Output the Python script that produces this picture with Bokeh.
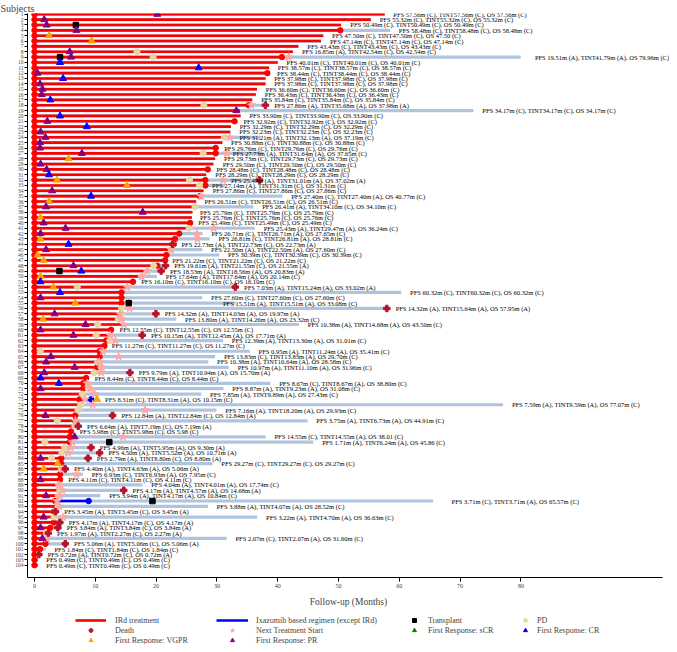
from bokeh.plotting import figure
from bokeh.layouts import column
from bokeh.models import (Range1d, FixedTicker, ColumnDataSource, LabelSet,
                          Legend, LegendItem)
from bokeh.core.properties import value
from bokeh.embed import file_html
from bokeh.resources import INLINE

FONT = "Liberation Serif"

subjects = list(range(1, 105))

# values printed in each row's annotation: PFS, TINT, OS (months) and event flags (A/C)
pfs = [57.56, 55.32, 50.49, 58.48, 47.50, 47.14, 43.43, 16.85, 19.51, 40.01,
       38.57, 38.44, 37.98, 37.98, 36.60, 36.43, 35.84, 27.86, 34.17, 33.90,
       32.92, 32.29, 32.23, 31.21, 30.88, 29.76, 27.73, 29.73, 29.50, 28.48,
       28.29, 25.49, 27.14, 27.86, 27.40, 26.51, 26.41, 25.79, 25.76, 25.49,
       25.43, 26.71, 26.81, 22.73, 22.50, 30.39, 21.22, 19.61, 18.53, 17.64,
       16.10, 7.03, 60.32, 27.60, 15.51, 14.32, 14.32, 13.80, 10.38, 12.55,
       10.15, 12.39, 11.27, 0.95, 13.83, 10.38, 10.97, 9.79, 8.44, 8.67,
       8.87, 7.85, 8.31, 7.59, 7.16, 12.84, 3.75, 6.64, 5.98, 14.55,
       1.71, 4.96, 4.50, 2.79, 29.27, 4.40, 6.93, 4.11, 4.04, 4.17,
       3.94, 3.71, 3.88, 3.45, 3.22, 4.17, 3.84, 1.97, 2.07, 5.06,
       1.84, 0.72, 0.49, 0.49]
tint = [57.56, 55.32, 50.49, 58.48, 47.50, 47.14, 43.43, 42.54, 41.79, 40.01,
        38.57, 38.44, 37.98, 37.98, 36.60, 36.43, 35.84, 35.68, 34.17, 33.90,
        32.92, 32.29, 32.23, 32.13, 30.88, 29.76, 31.64, 29.73, 29.50, 28.48,
        28.29, 31.01, 31.31, 27.86, 27.40, 26.51, 34.10, 25.79, 25.76, 25.49,
        29.47, 26.71, 26.81, 22.73, 22.50, 30.39, 21.22, 21.55, 18.56, 17.64,
        16.10, 15.24, 60.32, 27.60, 15.51, 15.64, 14.03, 14.26, 14.68, 12.55,
        12.45, 13.30, 11.27, 11.24, 13.83, 10.64, 11.10, 10.94, 8.44, 8.67,
        9.23, 9.89, 8.31, 9.59, 18.20, 12.84, 6.73, 7.19, 5.98, 14.55,
        6.24, 5.95, 5.52, 8.80, 29.27, 4.63, 6.93, 4.11, 4.01, 4.57,
        4.17, 3.71, 4.07, 3.45, 4.70, 4.17, 3.84, 2.27, 2.07, 5.06,
        1.84, 0.72, 0.49, 0.49]
os_m = [57.56, 55.32, 50.49, 58.48, 47.50, 47.14, 43.43, 42.54, 79.96, 40.01,
        38.57, 38.44, 37.98, 37.98, 36.60, 36.43, 35.84, 37.98, 34.17, 33.90,
        32.92, 32.29, 32.23, 37.19, 30.88, 29.76, 37.65, 29.73, 29.50, 28.48,
        28.29, 37.02, 31.31, 27.86, 40.77, 26.51, 34.10, 25.79, 25.76, 25.49,
        36.24, 27.65, 28.81, 22.73, 27.60, 30.39, 21.22, 21.55, 20.83, 20.14,
        16.10, 33.02, 60.32, 27.60, 33.08, 57.95, 19.97, 23.32, 43.50, 12.55,
        17.71, 31.01, 11.27, 35.41, 29.70, 28.58, 31.96, 15.70, 8.44, 38.80,
        31.08, 27.43, 10.15, 77.07, 29.93, 12.84, 44.91, 7.19, 5.98, 38.01,
        45.86, 9.30, 10.71, 8.80, 29.27, 5.06, 7.95, 4.11, 17.74, 14.68,
        10.84, 65.57, 28.52, 3.45, 36.63, 4.17, 3.84, 2.27, 31.60, 5.06,
        1.84, 0.72, 0.49, 0.49]
events = ["CCC", "CCC", "CCC", "CCC", "CCC", "CCC", "CCC", "ACC", "AAC", "CCC",
          "CCC", "CCC", "CCC", "CCC", "CCC", "CCC", "CCC", "AAA", "CCC", "CCC",
          "CCC", "CCC", "CCC", "AAC", "CCC", "CCC", "AAC", "CCC", "CCC", "CCC",
          "CCC", "AAA", "ACC", "CCC", "CAC", "CCC", "ACC", "CCC", "CCC", "CCC",
          "AAC", "CAC", "CAC", "ACA", "AAC", "CCC", "CCC", "ACA", "AAA", "AAC",
          "CCC", "AAA", "CCC", "CCC", "AAC", "AAA", "AAA", "AAC", "AAC", "CCC",
          "AAA", "AAC", "CCC", "AAC", "CAC", "AAC", "AAC", "AAA", "CCC", "CAC",
          "AAC", "AAC", "CAC", "AAC", "AAC", "ACA", "AAC", "ACA", "CCC", "CAC",
          "AAC", "AAA", "AAA", "ACA", "CCC", "AAA", "CAC", "CCC", "AAC", "AAA",
          "AAC", "CAC", "AAC", "ACA", "AAC", "ACA", "ACA", "ACA", "CAC", "ACA",
          "CCC", "ACA", "CCC", "CCC"]
os_without_unit = [5, 79, 80, 81]

# IRd treatment duration (months)
ird_end = [57.6, 55.3, 50.4, 50.3, 47.5, 47.1, 43.4, 42.5, 40.7, 40.0,
           38.6, 38.3, 38.0, 38.0, 36.6, 36.4, 35.8, 35.2, 33.8, 33.9,
           32.9, 32.3, 32.2, 31.2, 30.9, 29.8, 29.8, 29.7, 29.4, 28.5,
           28.2, 28.1, 28.1, 27.8, 27.2, 26.6, 26.4, 26.0, 25.9, 25.6,
           25.5, 23.8, 23.1, 22.9, 22.5, 21.7, 21.5, 20.2, 18.5, 17.6,
           16.2, 15.2, 14.3, 14.3, 14.3, 14.4, 14.1, 13.8, 14.4, 12.6,
           12.4, 11.8, 11.5, 10.7, 10.7, 10.4, 10.3, 9.8, 8.5, 8.0,
           8.0, 7.8, 7.4, 7.5, 7.1, 6.7, 6.7, 6.4, 6.0, 5.8,
           5.8, 4.9, 4.5, 4.4, 4.4, 4.2, 4.2, 4.2, 3.9, 4.2,
           3.6, 3.4, 4.1, 3.2, 3.2, 3.2, 2.6, 1.8, 1.8, 1.8,
           0.9, 0.5, 0.49, 0.49]
ird_stopped = [4, 9, 12, 18, 21, 26, 27, 30, 32, 33, 35, 40, 42, 43, 44, 46, 47, 48,
               51, 53, 54, 55, 60, 62, 63, 64, 65, 67, 69, 70, 71, 73, 76, 77, 79,
               80, 81, 84, 85, 87, 88, 92, 94, 96, 97, 100, 101]

# follow-up bar where it differs from OS
follow_diff = {19: 72.2, 37: 36.0}
# annotation start where it is not just after the follow-up bar
label_at_diff = {9: 82.3, 92: 68.6, 24: 33.7, 27: 32.6, 32: 32.3, 33: 29.2, 55: 31.0}

# ixazomib based regimens (except IRd)
ixa_subj = [73, 92]
ixa_start = [7.4, 3.4]
ixa_end = [9.3, 8.9]

transplant_subj = [3, 9, 49, 55, 81, 92]
transplant_x = [6.8, 4.2, 4.1, 15.5, 12.3, 19.4]

pr_subj = [1, 2, 3, 4, 8, 9, 12, 14, 15, 16, 19, 21, 23, 24, 25, 26, 27, 29, 30, 34,
           37, 38, 40, 41, 42, 45, 48, 54, 57, 59, 60, 61, 65, 66, 67, 68, 71, 76,
           80, 84, 88, 91, 95, 97, 99]
pr_x = [20.2, 1.6, 2.0, 6.9, 5.8, 6.0, 0.5, 0.9, 1.3, 1.2, 33.2, 2.1, 1.0, 1.8, 0.9,
        0.9, 7.8, 1.0, 2.0, 2.9, 1.9, 17.8, 1.5, 5.1, 1.0, 1.9, 6.4, 1.0, 3.3, 8.4,
        1.0, 6.4, 2.7, 1.9, 6.6, 1.6, 1.0, 1.8, 6.6, 1.0, 1.0, 1.9, 1.5, 1.0, 1.3]
vgpr_subj = [5, 6, 28, 32, 33, 36, 39, 43, 46, 47, 50, 52, 55, 58, 73, 85, 86]
vgpr_x = [2.4, 9.4, 5.6, 3.7, 15.2, 2.4, 1.0, 1.0, 0.5, 1.5, 1.0, 3.1, 6.7, 1.4,
          10.3, 3.8, 1.5]
cr_subj = [10, 11, 13, 17, 20, 22, 31, 35, 44, 49, 51, 53, 69, 70]
cr_x = [4.2, 27.0, 4.7, 2.6, 4.2, 8.6, 2.4, 9.3, 5.6, 7.7, 1.0, 4.2, 1.0, 4.0]
scr_subj = []
scr_x = []

x_ticks = [0, 10, 20, 30, 40, 50, 60, 70, 80]

# ---------------------------------------------------------------- derived
n = len(subjects)
follow = [follow_diff.get(s, o) for s, o in zip(subjects, os_m)]
start = [0.0] * n


def fmt(i):
    s = subjects[i]
    e = events[i]
    os_txt = f"OS {os_m[i]:.2f}" + ("" if s in os_without_unit else "m")
    return (f"PFS {pfs[i]:.2f}m ({e[0]}), TINT{tint[i]:.2f}m ({e[1]}), "
            f"{os_txt} ({e[2]})")


labels = [fmt(i) for i in range(n)]
label_x = [label_at_diff.get(s, f + 1.45) for s, f in zip(subjects, follow)]

pd_s = [s for s, e in zip(subjects, events) if e[0] == "A"]
pd_x = [v for v, e in zip(pfs, events) if e[0] == "A"]
nt_s = [s for s, e in zip(subjects, events) if e[1] == "A"]
nt_x = [v for v, e in zip(tint, events) if e[1] == "A"]
de_s = [s for s, e in zip(subjects, events) if e[2] == "A"]
de_x = [v for v, e in zip(os_m, events) if e[2] == "A"]
stop_x = [ird_end[s - 1] for s in ird_stopped]

# ---------------------------------------------------------------- styles
RED = "#ff0000"
LBLUE = "#b0c4de"
IXA = "#0000ff"
PDC = "#e8d7a2"
STAR = "#ffa8a8"
DEATH = "#b5152b"
VGPR = "#ffa500"
PR = "#800080"
CR = "#0000ff"
SCR = "#008000"

# ---------------------------------------------------------------- main figure
W = 669
MAIN_H = 615
LEG_H = 29
LEFT = 27
PX_PER_MONTH = 6.08
x0 = -7 / PX_PER_MONTH
x1 = x0 + (W - LEFT) / PX_PER_MONTH

p = figure(width=W, height=MAIN_H, output_backend="svg", toolbar_location=None,
           x_range=Range1d(x0, x1), y_range=Range1d(106.3, 0.85),
           min_border_left=LEFT, min_border_right=0,
           min_border_top=12, min_border_bottom=38)
p.outline_line_color = None
p.grid.visible = False

p.title.text = "Subjects"
p.title.align = "left"
p.title.offset = -LEFT
p.title.standoff = 0
p.title.text_font = FONT
p.title.text_font_size = "10px"
p.title.text_font_style = "normal"

src = ColumnDataSource(dict(s=subjects, x0=start, red=ird_end, fol=follow,
                            lx=label_x, lab=labels))

p.segment(x0="x0", y0="s", x1="fol", y1="s", source=src, line_color=LBLUE,
          line_width=3.2)
p.segment(x0="x0", y0="s", x1="red", y1="s", source=src, line_color=RED,
          line_width=2.6)
p.segment(x0=ixa_start, y0=ixa_subj, x1=ixa_end, y1=ixa_subj, line_color=IXA,
          line_width=2.4)
p.scatter(x="x0", y="s", source=src, size=5.5, color=RED)
p.scatter(x=stop_x, y=ird_stopped, size=5.5, color=RED)
p.scatter(x=ixa_end, y=ixa_subj, size=5.5, color=IXA)

p.scatter(x=pd_x, y=pd_s, marker="hex", size=6.5, color=PDC)
p.scatter(x=nt_x, y=nt_s, marker="star", size=8.5, color=STAR)
p.scatter(x=de_x, y=de_s, marker="plus", size=6.5, color=DEATH)
p.scatter(x=transplant_x, y=transplant_subj, marker="square", size=5.5, color="black")
p.scatter(x=vgpr_x, y=vgpr_subj, marker="triangle", size=7, color=VGPR)
p.scatter(x=pr_x, y=pr_subj, marker="triangle", size=7, color=PR)
p.scatter(x=cr_x, y=cr_subj, marker="triangle", size=7, color=CR)
p.scatter(x=scr_x, y=scr_subj, marker="triangle", size=7, color=SCR)

p.add_layout(LabelSet(x="lx", y="s", text="lab", source=src,
                      text_font=value(FONT), text_font_size="6.5px",
                      text_baseline="middle", text_align="left",
                      text_color="black"))

xa = p.xaxis[0]
xa.ticker = FixedTicker(ticks=x_ticks)
xa.bounds = (x0, x1 - 7 / PX_PER_MONTH)
xa.axis_label = "Follow-up (Months)"
xa.axis_label_text_font = FONT
xa.axis_label_text_font_size = "9.5px"
xa.axis_label_text_font_style = "normal"
xa.axis_label_standoff = 6
xa.major_label_text_font = FONT
xa.major_label_text_font_size = "6px"
xa.major_label_standoff = 2
xa.major_tick_in = 0
xa.major_tick_out = 4
xa.minor_tick_out = 0
xa.minor_tick_in = 0

ya = p.yaxis[0]
ya.ticker = FixedTicker(ticks=subjects)
ya.major_label_text_font = FONT
ya.major_label_text_font_size = "5.5px"
ya.major_label_standoff = 1
ya.major_tick_in = 0
ya.major_tick_out = 3
ya.minor_tick_out = 0
ya.minor_tick_in = 0

# ---------------------------------------------------------------- legend figure
# (its frame is aligned with the main frame by the column layout)
q = figure(width=W, height=LEG_H, output_backend="svg", toolbar_location=None,
           x_range=Range1d(0, W - LEFT), y_range=Range1d(0, LEG_H),
           min_border=0, x_axis_type=None, y_axis_type=None)
q.outline_line_color = None
q.grid.visible = False

nan = float("nan")
proxy = dict(x0=[nan], y0=[nan], x1=[nan], y1=[nan])
l_ird = q.segment(source=ColumnDataSource(dict(proxy)), x0="x0", y0="y0", x1="x1",
                  y1="y1", line_color=RED, line_width=2.6)
l_ixa = q.segment(source=ColumnDataSource(dict(proxy)), x0="x0", y0="y0", x1="x1",
                  y1="y1", line_color=IXA, line_width=2.4)


def mk(marker, color):
    return q.scatter(x=[nan], y=[nan], marker=marker, color=color)


l_de = mk("plus", DEATH)
l_vg = mk("triangle", VGPR)
l_nt = mk("star", STAR)
l_pr = mk("triangle", PR)
l_tx = mk("square", "black")
l_sc = mk("triangle", SCR)
l_pd = mk("hex", PDC)
l_cr = mk("triangle", CR)

common = dict(orientation="vertical", glyph_height=10, label_height=10, spacing=0,
              padding=0, margin=0, border_line_alpha=0, background_fill_alpha=0,
              label_text_font=FONT, label_text_font_size="8px")
cols = [
    ([("IRd treatment", l_ird), ("Death", l_de), ("First Response: VGPR", l_vg)],
     (48, LEG_H - 30), 31, 9),
    ([("Ixazomib based regimen (except IRd)", l_ixa), ("Next Treatment Start", l_nt),
      ("First Response: PR", l_pr)], (189, LEG_H - 30), 32, 8),
    ([("Transplant", l_tx), ("First Response: sCR", l_sc)], (379, LEG_H - 20), 16, 6),
    ([("PD", l_pd), ("First Response: CR", l_cr)], (490, LEG_H - 20), 16, 4),
]
for items, loc, gw, st in cols:
    leg = Legend(items=[LegendItem(label=t, renderers=[r]) for t, r in items],
                 location=loc, glyph_width=gw, label_standoff=st, **common)
    q.add_layout(leg, "center")

open("out.html", "w").write(file_html(column(p, q), INLINE))
